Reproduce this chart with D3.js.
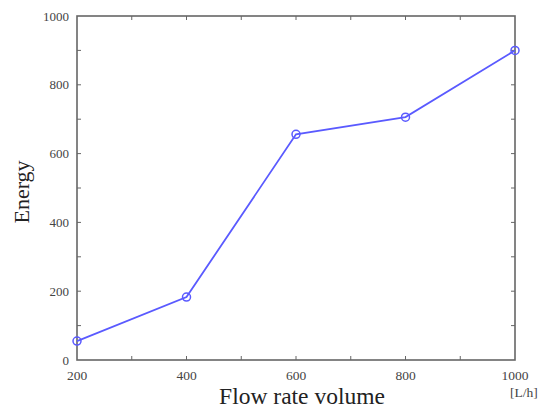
<!DOCTYPE html>
<html>
<head>
<meta charset="utf-8">
<script src="https://cdn.jsdelivr.net/npm/d3@7"></script>
<style>
  html, body { margin: 0; padding: 0; background: #fff; }
  svg { display: block; font-family: "Liberation Serif", "DejaVu Serif", serif; }
</style>
</head>
<body>
<svg id="chart" width="544" height="411"></svg>
<script>
// Energy against flow rate volume
const flowRates = [200, 400, 600, 800, 1000];
const energy = [55, 183, 656, 706, 900];
const xTicks = [200, 400, 600, 800, 1000];
const yTicks = [0, 200, 400, 600, 800, 1000];

(function () {
  const svg = d3.select("#chart");
  const plotLeft = 77, plotRight = 515, plotTop = 16, plotBottom = 360;

  const x = d3.scaleLinear().domain([200, 1000]).range([plotLeft, plotRight]);
  const y = d3.scaleLinear().domain([0, 1000]).range([plotBottom, plotTop]);

  const axisColor = "#666";
  const labelColor = "#444";

  // tick marks pointing inward on all four sides, minor every 100
  const minorX = d3.range(300, 1000, 100);
  const minorY = d3.range(100, 1000, 100);
  const tickLen = 4;
  const g = svg.append("g");

  minorX.forEach(v => {
    g.append("line").attr("x1", x(v)).attr("x2", x(v)).attr("y1", plotBottom).attr("y2", plotBottom - tickLen)
      .attr("stroke", axisColor).attr("stroke-width", 1);
    g.append("line").attr("x1", x(v)).attr("x2", x(v)).attr("y1", plotTop).attr("y2", plotTop + tickLen)
      .attr("stroke", axisColor).attr("stroke-width", 1);
  });
  minorY.forEach(v => {
    g.append("line").attr("x1", plotLeft).attr("x2", plotLeft + tickLen).attr("y1", y(v)).attr("y2", y(v))
      .attr("stroke", axisColor).attr("stroke-width", 1);
    g.append("line").attr("x1", plotRight).attr("x2", plotRight - tickLen).attr("y1", y(v)).attr("y2", y(v))
      .attr("stroke", axisColor).attr("stroke-width", 1);
  });

  // frame
  g.append("rect").attr("x", plotLeft).attr("y", plotTop)
    .attr("width", plotRight - plotLeft).attr("height", plotBottom - plotTop)
    .attr("fill", "none").attr("stroke", axisColor).attr("stroke-width", 1.6);

  // tick labels
  svg.append("g").selectAll("text").data(yTicks).join("text")
    .attr("x", plotLeft - 8).attr("y", d => y(d) + 4.5)
    .attr("text-anchor", "end").attr("font-size", 13).attr("fill", labelColor)
    .text(d => d);

  svg.append("g").selectAll("text").data(xTicks).join("text")
    .attr("x", d => x(d)).attr("y", plotBottom + 20)
    .attr("text-anchor", "middle").attr("font-size", 13.5).attr("fill", labelColor)
    .text(d => d);

  // axis titles
  svg.append("text").attr("transform", `translate(29, 192) rotate(-90)`)
    .attr("text-anchor", "middle").attr("font-size", 22).attr("fill", "#222").text("Energy");
  svg.append("text").attr("x", 302).attr("y", 404)
    .attr("text-anchor", "middle").attr("font-size", 23.5).attr("fill", "#222").text("Flow rate volume");
  svg.append("text").attr("x", 510).attr("y", 397)
    .attr("text-anchor", "start").attr("font-size", 13.5).attr("fill", labelColor).text("[L/h]");

  // data line and markers
  const pts = flowRates.map((f, i) => [f, energy[i]]);
  const lineColor = "#5a5aff";
  svg.append("path").datum(pts)
    .attr("d", d3.line().x(d => x(d[0])).y(d => y(d[1])))
    .attr("fill", "none").attr("stroke", lineColor).attr("stroke-width", 1.8);
  svg.append("g").selectAll("circle").data(pts).join("circle")
    .attr("cx", d => x(d[0])).attr("cy", d => y(d[1])).attr("r", 4)
    .attr("fill", "none").attr("stroke", lineColor).attr("stroke-width", 1.5);
})();
</script>
</body>
</html>
